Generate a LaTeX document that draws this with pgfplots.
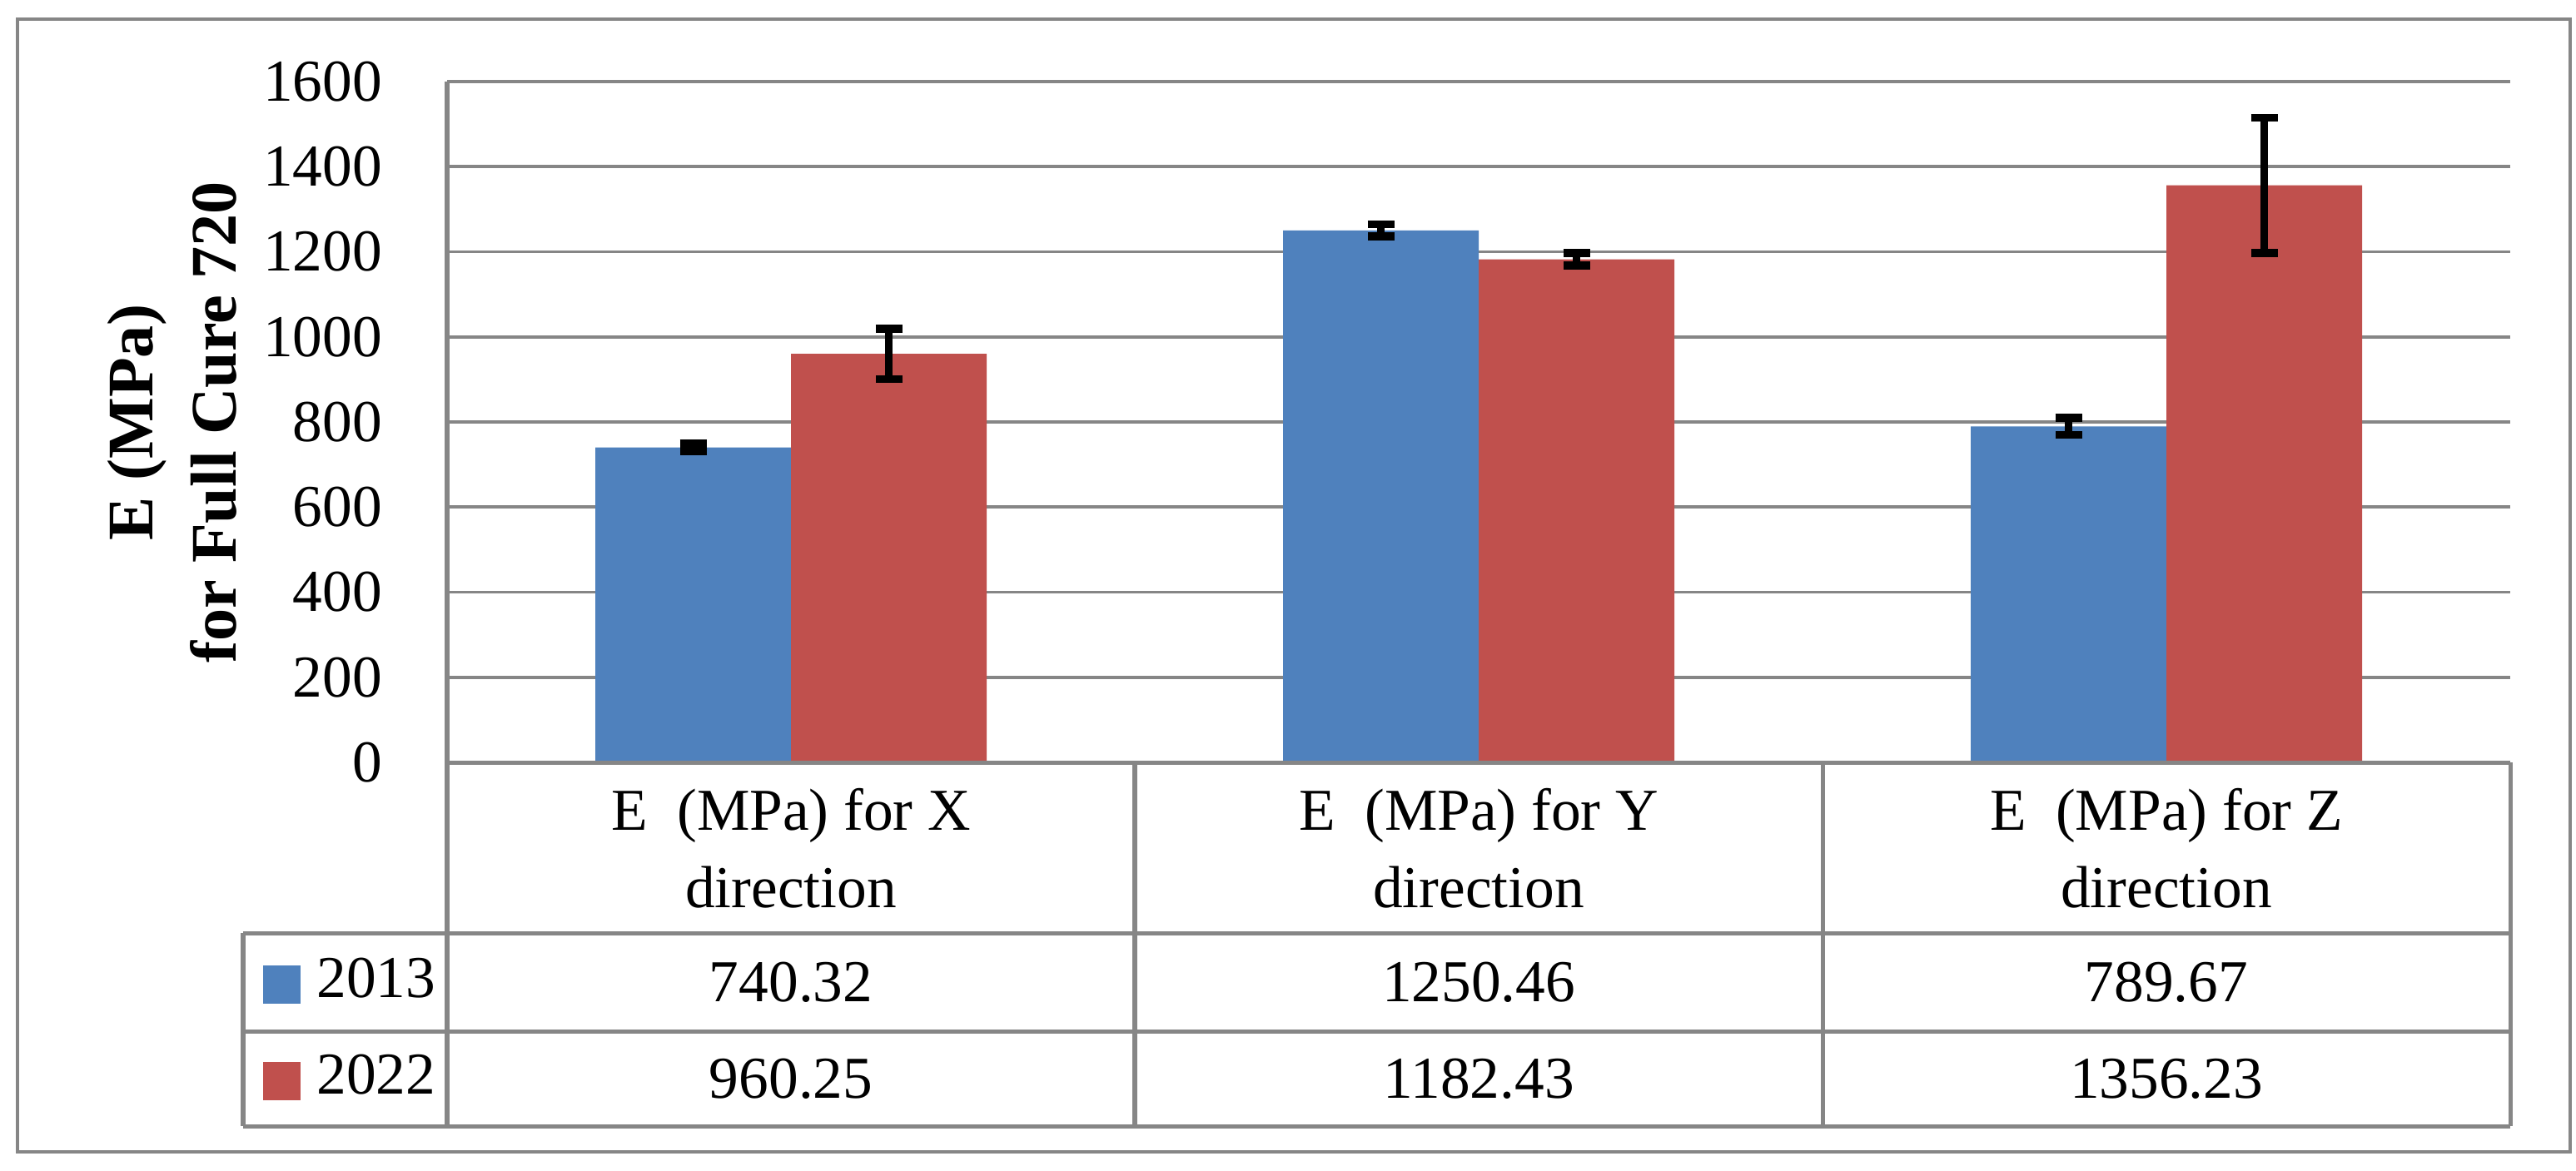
\documentclass[border=0pt]{standalone}
\usepackage{fontspec}
\setmainfont{Liberation Serif}
\usepackage{pgfplots}
\pgfplotsset{compat=1.18}
\definecolor{barblue}{HTML}{4F81BD}
\definecolor{barred}{HTML}{C0504D}
\definecolor{linegray}{HTML}{868686}
\newcommand{\tabfont}{\fontsize{10.5}{13.6}\selectfont}

\begin{document}
\begin{tikzpicture}
\begin{axis}[
  name=ax,
  at={(0,0)}, anchor=south west,
  scale only axis,
  width=12.814cm, height=4.230cm,
  ybar=0pt, bar width=1.215cm,
  xmin=-0.5, xmax=2.5, ymin=0, ymax=1600,
  xtick=\empty,
  ytick={0,200,...,1600},
  ymajorgrids, grid style={linegray, line width=0.55pt},
  axis line style={draw=none},
  major tick length=0pt,
  /pgf/number format/1000 sep={},
  /pgf/number format/assume math mode=true,
  ticklabel style={font=\tabfont},
  yticklabel style={xshift=-0.28cm},
  ylabel={E (MPa)\\for Full Cure 720},
  ylabel style={at={(axis description cs:-0.1334,0.5)}, anchor=center,
    align=center, font=\fontsize{11.5}{14.7}\selectfont\bfseries},
  legend cell align=left,
  legend style={at={(axis description cs:-0.0892,-0.2518)}, anchor=north west,
    draw=none, fill=none, inner sep=0pt, outer sep=0pt,
    column sep=0.098cm, row sep=0pt,
    nodes={inner sep=0pt, minimum height=0.6cm, font=\tabfont}},
]
\addplot[fill=barblue, draw=none,
  legend image code/.code={\fill[barblue] (0cm,-0.1315cm) rectangle (0.235cm,0.1035cm);},
  error bars/.cd, y dir=both, y explicit,
  error bar style={black, line width=1.3pt},
  error mark options={black, rotate=90, mark size=2.35pt, line width=1.4pt}]
  coordinates {(0,740.32) +- (0,9) (1,1250.46) +- (0,14) (2,789.67) +- (0,20)};
\addlegendentry{2013}
\addplot[fill=barred, draw=none,
  legend image code/.code={\fill[barred] (0cm,-0.1315cm) rectangle (0.235cm,0.1035cm);},
  error bars/.cd, y dir=both, y explicit,
  error bar style={black, line width=1.3pt},
  error mark options={black, rotate=90, mark size=2.35pt, line width=1.4pt}]
  coordinates {(0,960.25) +- (0,59) (1,1182.43) +- (0,15) (2,1356.23) +- (0,159)};
\addlegendentry{2022}
\end{axis}

\begin{scope}[shift={(ax.south west)}]
  % data table under the bars
  \begin{scope}[linegray, line width=0.75pt]
    \draw (0,4.230) -- (0,-2.260);
    \draw (0,0) -- (12.814,0);
    \draw (-1.267,-1.060) -- (12.814,-1.060);
    \draw (-1.267,-1.670) -- (12.814,-1.670);
    \draw (-1.267,-2.260) -- (12.814,-2.260);
    \draw (-1.267,-1.060) -- (-1.267,-2.260);
    \foreach \x in {4.271,8.543,12.814} \draw (\x,0) -- (\x,-2.260);
    \draw[line width=0.65pt] (-2.668,-2.420) rectangle (13.186,4.618);
  \end{scope}
  \foreach \x/\d/\a/\b in {2.136/X/740.32/960.25, 6.407/Y/1250.46/1182.43, 10.678/Z/789.67/1356.23} {
    \node[align=center, font=\tabfont] at (\x,-0.533) {E~~(MPa) for \d\\direction};
    \node[font=\tabfont] at (\x,-1.365) {\a};
    \node[font=\tabfont] at (\x,-1.965) {\b};
  }
  \pgfresetboundingbox
  \path[use as bounding box] (-2.777,-2.534) rectangle (13.222,4.737);
\end{scope}
\end{tikzpicture}
\end{document}
